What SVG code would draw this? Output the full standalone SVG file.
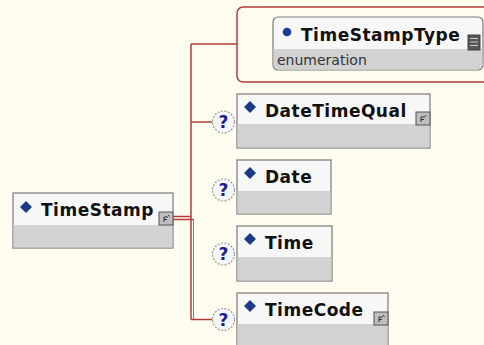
<svg xmlns="http://www.w3.org/2000/svg" width="484" height="345" viewBox="0 0 484 345">
<defs>
<style>
.bg{fill:#fefdf0}
.box{fill:#f7f7f7;stroke:#7a7a7a;stroke-width:1.2}
.grey{fill:#d2d2d2}
.title{font-family:"DejaVu Sans",Verdana,sans-serif;font-weight:bold;font-size:17px;letter-spacing:0.5px;fill:#111}
.sub{font-family:"DejaVu Sans",Verdana,sans-serif;font-size:14px;fill:#333}
.dia{fill:#1d3a8a}
.opt circle{fill:#f6f6fa;stroke:#9a9a9a;stroke-width:1.2;stroke-dasharray:2 1.5}
.opt text{font-family:"DejaVu Sans",Verdana,sans-serif;font-weight:bold;font-size:17px;fill:#1c1c8e;text-anchor:middle}
.ico rect{fill:#bdbdbd;stroke:#555;stroke-width:1}
.ico path{fill:none;stroke:#333;stroke-width:1}
.con{stroke:#b73a3a;stroke-width:1.5;fill:none}
</style>
</defs>
<rect class="bg" x="0" y="0" width="484" height="345"/>

<g id="connectors">
<path class="con" d="M173 216.5H191M173 219.5H193.5"/>
<path class="con" d="M191 44V319.5"/>
<path class="con" d="M193.5 219V319.5" style="stroke:#c86060;stroke-width:1"/>
<path class="con" d="M191 44H237"/>
<path class="con" d="M191 122H212.5"/>
<path class="con" d="M191 319.5H212.5"/>
<rect x="237" y="7" width="262" height="75" rx="6" fill="none" stroke="#b73a3a" stroke-width="1.5"/>
</g>

<g id="TimeStamp">
<rect class="box" x="13" y="193" width="160" height="55"/>
<rect class="grey" x="13.6" y="225" width="158.8" height="22.4"/>
<polygon class="dia" points="26,201 32,207 26,213 20,207"/>
<text class="title" x="41" y="216">TimeStamp</text>
<g class="ico"><rect x="159" y="212" width="14" height="13"/><path d="M164 222V217H168M164 219.5H167M168 215L169.5 216.5"/></g>
</g>

<g id="TimeStampType">
<rect class="box" x="273" y="17" width="210" height="53" rx="5"/>
<path class="grey" d="M273.6 49H482.4V65A4.4 4.4 0 0 1 478 69.4H278A4.4 4.4 0 0 1 273.6 65Z"/>
<circle cx="287" cy="32" r="4.3" fill="#1d3aa0"/>
<text class="title" x="301" y="41">TimeStampType</text>
<text class="sub" x="277" y="65">enumeration</text>
<g><rect x="468" y="35" width="12" height="15" fill="#555" stroke="#444"/><path d="M470 38.5H478M470 42H478M470 45.5H478" stroke="#ccc" stroke-width="1"/></g>
</g>

<g id="DateTimeQual">
<g class="opt"><circle cx="223.5" cy="122" r="11"/><text x="223.5" y="128">?</text></g>
<rect class="box" x="237" y="94" width="193" height="54"/>
<rect class="grey" x="237.6" y="124" width="191.8" height="23.4"/>
<polygon class="dia" points="250,101 256,107 250,113 244,107"/>
<text class="title" x="265" y="117">DateTimeQual</text>
<g class="ico"><rect x="416" y="112" width="14" height="13"/><path d="M421 122V117H425M421 119.5H424M425 115L426.5 116.5"/></g>
</g>

<g id="Date">
<g class="opt"><circle cx="223.5" cy="190" r="11"/><text x="223.5" y="196">?</text></g>
<rect class="box" x="237" y="160" width="94" height="54"/>
<rect class="grey" x="237.6" y="191" width="92.8" height="22.4"/>
<polygon class="dia" points="250,167 256,173 250,179 244,173"/>
<text class="title" x="265" y="183">Date</text>
</g>

<g id="Time">
<g class="opt"><circle cx="223.5" cy="254" r="11"/><text x="223.5" y="260">?</text></g>
<rect class="box" x="237" y="226" width="95" height="55"/>
<rect class="grey" x="237.6" y="257" width="93.8" height="23.4"/>
<polygon class="dia" points="250,233 256,239 250,245 244,239"/>
<text class="title" x="265" y="249">Time</text>
</g>

<g id="TimeCode">
<g class="opt"><circle cx="223.5" cy="319.5" r="11"/><text x="223.5" y="325.5">?</text></g>
<rect class="box" x="237" y="293" width="151" height="58"/>
<rect class="grey" x="237.6" y="324" width="149.8" height="27"/>
<polygon class="dia" points="250,300 256,306 250,312 244,306"/>
<text class="title" x="265" y="316">TimeCode</text>
<g class="ico"><rect x="374" y="312" width="14" height="13"/><path d="M379 322V317H383M379 319.5H382M383 315L384.5 316.5"/></g>
</g>
</svg>
